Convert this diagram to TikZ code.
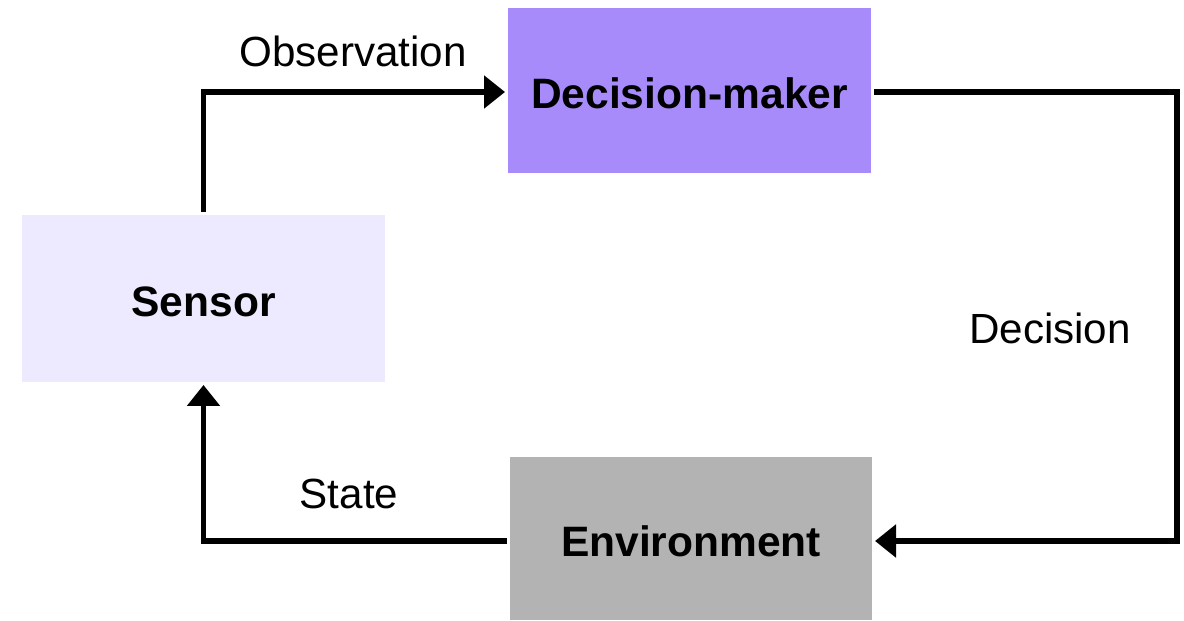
\documentclass[tikz,border=0pt]{standalone}
\usepackage{fontspec}
\setmainfont{Liberation Sans}
\usetikzlibrary{%
  arrows.meta,%
  positioning,% wg. " of "
  calc
}
\definecolor{dmviolet}{RGB}{167,139,250}
\definecolor{senslav}{RGB}{237,233,254}
\definecolor{envgray}{RGB}{179,179,179}

\begin{document}
\begin{tikzpicture}
[font=\fontsize{12}{14}\selectfont, draw=black, line width=1.7pt,
>={Triangle[length=2.1mm, width=3.2mm]},
box/.style={rectangle, draw=none, inner sep=0pt, minimum width=3.63cm, minimum height=1.65cm, text height=10.5pt, text depth=0pt, font=\fontsize{12.1}{14}\selectfont\bfseries},
dmbox/.style={box, fill=dmviolet},
sensbox/.style={box, fill=senslav, minimum height=1.67cm},
envbox/.style={box, fill=envgray, minimum width=3.62cm, minimum height=1.63cm}
]
\useasboundingbox (0,0) rectangle (11.84,-6.21);

\node[dmbox] (dm) at (6.895,-0.905) {Decision-maker};
\node[sensbox] (sensor) at (2.035,-2.985) {Sensor};
\node[envbox] (env) at (6.91,-5.385) {Environment};

\coordinate (dcorner) at (11.77,-3.28);

\draw[->] (sensor.north) |- ([yshift=-0.15mm]dm.west);
\draw[->] ([yshift=-0.15mm]dm.east) -| (dcorner) |- ([yshift=-0.25mm]env.east);
\draw[->] ([yshift=-0.25mm]env.west) -| (sensor.south);

\node (obs) at (3.53,-0.51) {Observation};
\node (dec) at (10.50,-3.28) {Decision};
\node (state) at (3.49,-4.94) {State};
\end{tikzpicture}
\end{document}
